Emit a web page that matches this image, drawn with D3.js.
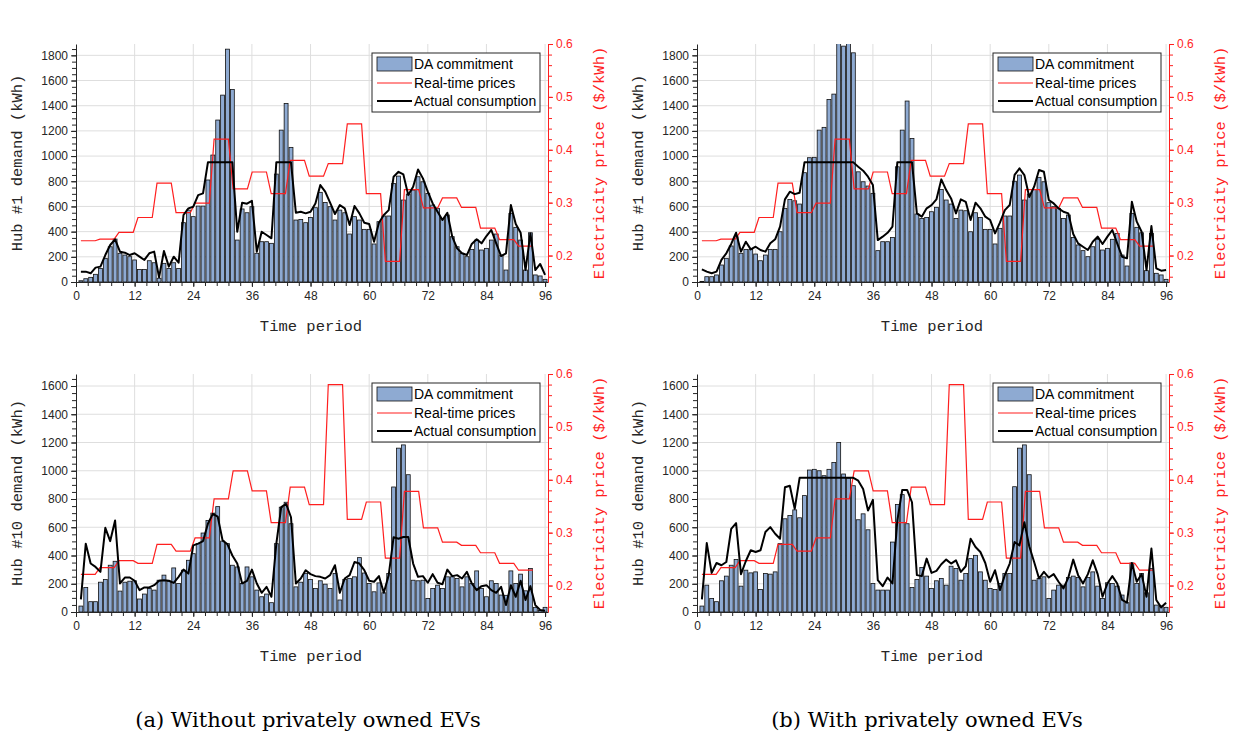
<!DOCTYPE html>
<html>
<head>
<meta charset="utf-8">
<script src="https://cdn.jsdelivr.net/npm/d3@7"></script>
<style>
  body { margin: 0; background: #fff; }
  svg { display: block; }
</style>
</head>
<body>
<script>
// Data, one value per 15-min period, t = 1..96
const hub1DaNoEv = [10,26,37,61,108,188,280,341,228,214,201,175,100,100,169,153,30,148,108,153,108,471,571,519,603,603,810,1008,1286,1484,1849,1529,
  333,580,550,598,228,320,320,307,857,1206,1418,1069,492,497,471,513,590,712,632,598,492,571,550,381,519,492,418,418,302,479,524,524,
  783,841,651,698,730,836,796,704,611,585,505,532,360,280,228,201,259,333,254,267,333,381,214,95,545,434,333,95,391,56,48,21]
const hub1ActNoEv = [82,82,69,114,122,214,294,339,241,233,214,228,201,175,228,241,37,246,122,201,153,532,585,598,690,704,950,950,950,950,950,950,
  399,630,622,645,241,399,373,347,950,950,950,950,550,558,545,558,624,770,717,630,540,611,585,452,603,545,471,460,320,471,532,571,
  836,875,854,690,757,894,823,717,624,558,492,550,360,267,228,214,302,339,307,365,413,307,206,228,611,460,391,95,386,95,143,56]
const hub1DaEv = [5,42,42,56,135,188,286,360,228,259,259,222,169,214,259,259,399,585,656,645,619,868,987,990,1206,1228,1450,1492,1900,1873,1900,1820,
  875,796,762,704,249,320,320,354,915,1206,1437,1140,540,505,513,558,593,735,651,619,505,571,566,399,550,513,418,418,302,426,524,524,
  800,849,651,698,735,831,796,630,598,585,505,532,354,294,249,201,280,339,254,267,339,386,214,127,545,434,391,90,386,69,56,21]
const hub1ActEv = [101,82,69,82,175,228,302,391,241,320,259,280,254,241,307,339,439,656,717,698,709,950,950,950,950,950,950,950,950,950,950,950,
  915,884,836,770,333,360,391,439,950,950,950,950,545,519,585,611,656,815,730,664,545,656,637,492,630,585,519,492,386,471,571,611,
  850,902,849,675,757,889,875,651,624,585,558,545,381,307,280,254,320,360,302,360,413,307,201,188,637,479,399,95,444,108,90,95]

const hub10DaNoEv = [42,174,73,73,211,230,331,359,148,211,218,221,92,127,167,155,225,261,218,312,202,296,366,413,484,559,648,700,746,502,484,331,
  319,202,319,249,155,108,127,66,484,742,777,625,178,211,272,230,167,221,197,167,272,85,230,237,249,385,276,202,143,206,136,272,
  885,1160,1183,972,225,221,225,96,167,190,167,249,249,237,178,249,202,291,167,108,221,202,120,118,291,202,268,150,308,33,10,33]
const hub10ActNoEv = [89,484,343,319,284,596,502,648,202,244,244,221,155,174,174,190,221,225,221,206,249,300,272,472,484,502,625,695,676,507,479,400,
  343,202,220,300,202,136,178,108,484,742,765,671,202,237,296,268,254,249,237,261,331,136,237,261,354,343,296,221,214,254,136,261,
  530,519,531,531,343,249,254,207,268,207,197,300,254,261,237,284,202,155,183,190,155,136,178,49,190,108,221,85,183,49,14,9]
const hub10DaEv = [42,190,96,73,221,254,331,371,183,296,277,284,160,272,268,284,484,660,683,723,667,824,1005,1010,1000,965,1010,1058,1200,977,948,894,
  653,695,582,202,155,155,155,495,761,831,625,174,230,315,254,167,221,237,190,324,308,225,272,378,401,284,225,167,160,202,272,272,
  887,1160,1183,972,225,237,249,96,155,190,190,244,254,244,178,244,284,183,96,207,202,183,120,66,347,202,272,136,308,49,42,33]
const hub10ActEv = [89,488,277,347,331,354,589,629,268,361,437,425,437,566,601,554,519,883,894,730,950,950,950,950,950,950,950,950,950,950,950,950,
  930,871,718,794,225,183,244,202,648,864,864,777,261,254,378,277,291,338,371,343,366,284,324,519,460,425,347,214,296,155,261,343,
  495,472,636,465,354,237,284,244,268,214,167,244,371,261,202,268,366,268,108,202,254,202,85,66,347,214,268,108,449,85,33,66]

// Hourly real-time prices ($/kWh), 24 values
const hub1Price = [0.228,0.231,0.244,0.272,0.337,0.281,0.299,0.42,0.326,0.358,0.317,0.38,
  0.35,0.374,0.449,0.317,0.189,0.3245,0.29,0.309,0.291,0.252,0.23,0.218]
const hub10Price = [0.221,0.234,0.247,0.242,0.278,0.265,0.29,0.364,0.417,0.379,0.319,0.386,
  0.353,0.58,0.325,0.358,0.252,0.378,0.309,0.282,0.276,0.262,0.242,0.229]

const xTicks = d3.range(0, 97, 12)
const xMinor = d3.range(0, 96.01, 2.4)
const priceTicks = [0.2, 0.3, 0.4, 0.5, 0.6]
const priceMinor = d3.range(0.16, 0.601, 0.02)
const legendItems = ['DA commitment', 'Real-time prices', 'Actual consumption']
const captions = ['(a) Without privately owned EVs', '(b) With privately owned EVs']

const barColor = '#8eaad2'
const axisColor = '#262626'
const red = '#ff1f1f'

const svg = d3.select('body').append('svg')
  .attr('width', 1233)
  .attr('height', 738)

function panel(p) {
  const w = 472
  const x = d3.scaleLinear().domain([0, 96.6]).range([p.left, p.left + w])
  const y = d3.scaleLinear().domain([0, p.yMax]).range([p.bottom, p.top])
  const yP = d3.scaleLinear().domain([0.15, 0.6]).range([p.bottom, p.top])
  const bw = (x(1) - x(0)) * 0.8

  const g = svg.append('g')
  g.append('clipPath').attr('id', 'clip' + p.id)
    .append('rect')
    .attr('x', p.left).attr('y', p.top)
    .attr('width', w).attr('height', p.bottom - p.top)

  // grid
  g.append('g').attr('stroke', '#dedede').attr('stroke-width', 1)
    .selectAll('line').data(xTicks.slice(1)).join('line')
    .attr('x1', d => x(d)).attr('x2', d => x(d))
    .attr('y1', p.top).attr('y2', p.bottom)
  g.append('g').attr('stroke', '#dedede').attr('stroke-width', 1)
    .selectAll('line').data(p.yTicks.slice(1)).join('line')
    .attr('x1', p.left).attr('x2', p.left + w)
    .attr('y1', d => y(d)).attr('y2', d => y(d))

  const plot = g.append('g').attr('clip-path', `url(#clip${p.id})`)

  // DA commitment bars
  plot.append('g')
    .attr('fill', barColor)
    .attr('stroke', '#111')
    .attr('stroke-width', 0.8)
    .selectAll('rect')
    .data(p.da)
    .join('rect')
    .attr('x', (d, i) => x(i + 1) - bw / 2)
    .attr('y', d => y(d))
    .attr('width', bw)
    .attr('height', d => y(0) - y(d))

  // real-time price: 24 hourly values held for 4 points each
  const pricePts = d3.range(96).map(i => [1 + i * 92.5 / 95, p.price[Math.floor(i / 4)]])
  plot.append('path')
    .datum(pricePts)
    .attr('fill', 'none')
    .attr('stroke', red)
    .attr('stroke-width', 1.2)
    .attr('d', d3.line().x(d => x(d[0])).y(d => yP(d[1])))

  // actual consumption
  plot.append('path')
    .datum(p.act)
    .attr('fill', 'none')
    .attr('stroke', '#000')
    .attr('stroke-width', 2)
    .attr('stroke-linejoin', 'round')
    .attr('d', d3.line().x((d, i) => x(i + 1)).y(d => y(d)))

  // axes
  const styleAxis = (sel, color) => {
    sel.selectAll('path').attr('stroke', color)
    sel.selectAll('line').attr('stroke', color)
    sel.selectAll('text').attr('fill', color)
      .style('font-family', '"Liberation Sans", Arial, sans-serif')
      .style('font-size', '12px')
  }
  const gx = g.append('g').attr('transform', `translate(0,${p.bottom})`)
    .call(d3.axisBottom(x).tickValues(xTicks).tickSize(5).tickSizeOuter(0).tickPadding(4).tickFormat(d3.format('d')))
  styleAxis(gx, axisColor)
  const gxm = g.append('g').attr('transform', `translate(0,${p.bottom})`)
    .call(d3.axisBottom(x).tickValues(xMinor).tickSize(4).tickSizeOuter(0).tickFormat(''))
  gxm.select('.domain').remove()
  styleAxis(gxm, axisColor)

  const gy = g.append('g').attr('transform', `translate(${p.left},0)`)
    .call(d3.axisLeft(y).tickValues(p.yTicks).tickSize(5).tickSizeOuter(0).tickPadding(3).tickFormat(d3.format('d')))
  styleAxis(gy, axisColor)
  const gym = g.append('g').attr('transform', `translate(${p.left},0)`)
    .call(d3.axisLeft(y).tickValues(d3.range(0, p.yMax, 50)).tickSize(4).tickSizeOuter(0).tickFormat(''))
  gym.select('.domain').remove()
  styleAxis(gym, axisColor)

  const gr = g.append('g').attr('transform', `translate(${p.left + w},0)`)
    .call(d3.axisRight(yP).tickValues(priceTicks).tickSize(5).tickSizeOuter(0).tickPadding(3).tickFormat(d3.format('.1f')))
  styleAxis(gr, red)
  const grm = g.append('g').attr('transform', `translate(${p.left + w},0)`)
    .call(d3.axisRight(yP).tickValues(priceMinor).tickSize(4).tickSizeOuter(0).tickFormat(''))
  grm.select('.domain').remove()
  styleAxis(grm, red)

  // axis titles
  const mid = (p.top + p.bottom) / 2
  const mono = '"Liberation Mono", "Courier New", monospace'
  g.append('text')
    .attr('transform', `translate(${p.left - 58},${mid}) rotate(-90)`)
    .attr('text-anchor', 'middle').attr('dominant-baseline', 'central')
    .style('font-family', mono).style('font-size', '15.5px').attr('fill', axisColor)
    .text(p.ylabel)
  g.append('text')
    .attr('transform', `translate(${p.left + w + 52},${mid}) rotate(-90)`)
    .attr('text-anchor', 'middle').attr('dominant-baseline', 'central')
    .style('font-family', mono).style('font-size', '15.5px').attr('fill', red)
    .text('Electricity price ($/kWh)')
  g.append('text')
    .attr('x', p.left + w / 2 - 1).attr('y', p.bottom + 45)
    .attr('text-anchor', 'middle').attr('dominant-baseline', 'central')
    .style('font-family', mono).style('font-size', '15.5px').attr('fill', axisColor)
    .text('Time period')

  // legend
  const lx = p.left + w - 176
  const ly = p.top + 9
  const lg = g.append('g')
  lg.append('rect')
    .attr('x', lx).attr('y', ly).attr('width', 168).attr('height', 59)
    .attr('fill', '#fff').attr('stroke', '#262626').attr('stroke-width', 1)
  const rowY = [ly + 11, ly + 30, ly + 48]
  lg.append('rect')
    .attr('x', lx + 5).attr('y', rowY[0] - 7).attr('width', 35).attr('height', 14)
    .attr('fill', barColor).attr('stroke', '#111').attr('stroke-width', 0.8)
  lg.append('line')
    .attr('x1', lx + 5).attr('x2', lx + 40).attr('y1', rowY[1]).attr('y2', rowY[1])
    .attr('stroke', red).attr('stroke-width', 1.2)
  lg.append('line')
    .attr('x1', lx + 5).attr('x2', lx + 40).attr('y1', rowY[2]).attr('y2', rowY[2])
    .attr('stroke', '#000').attr('stroke-width', 2)
  lg.selectAll('text.leg').data(legendItems).join('text')
    .attr('class', 'leg')
    .attr('x', lx + 42).attr('y', (d, i) => rowY[i])
    .attr('dominant-baseline', 'central')
    .style('font-family', '"Liberation Sans", Arial, sans-serif')
    .style('font-size', '14px')
    .attr('fill', '#000')
    .text(d => d)
}

const panels = [
  { id: 'a1', left: 76, top: 44, bottom: 282, yMax: 1890, yTicks: d3.range(0, 1801, 200), ylabel: 'Hub #1 demand (kWh)', da: hub1DaNoEv, act: hub1ActNoEv, price: hub1Price },
  { id: 'b1', left: 697, top: 44, bottom: 282, yMax: 1890, yTicks: d3.range(0, 1801, 200), ylabel: 'Hub #1 demand (kWh)', da: hub1DaEv, act: hub1ActEv, price: hub1Price },
  { id: 'a10', left: 76, top: 374, bottom: 612, yMax: 1685, yTicks: d3.range(0, 1601, 200), ylabel: 'Hub #10 demand (kWh)', da: hub10DaNoEv, act: hub10ActNoEv, price: hub10Price },
  { id: 'b10', left: 697, top: 374, bottom: 612, yMax: 1685, yTicks: d3.range(0, 1601, 200), ylabel: 'Hub #10 demand (kWh)', da: hub10DaEv, act: hub10ActEv, price: hub10Price }
]
panels.forEach(p => panel(p))

svg.selectAll('text.cap').data(captions).join('text')
  .attr('class', 'cap')
  .attr('x', (d, i) => i === 0 ? 308 : 927)
  .attr('y', 720)
  .attr('text-anchor', 'middle')
  .attr('dominant-baseline', 'central')
  .style('font-family', '"DejaVu Serif", serif')
  .style('font-size', '21px')
  .attr('fill', '#000')
  .text(d => d)
</script>
</body>
</html>
